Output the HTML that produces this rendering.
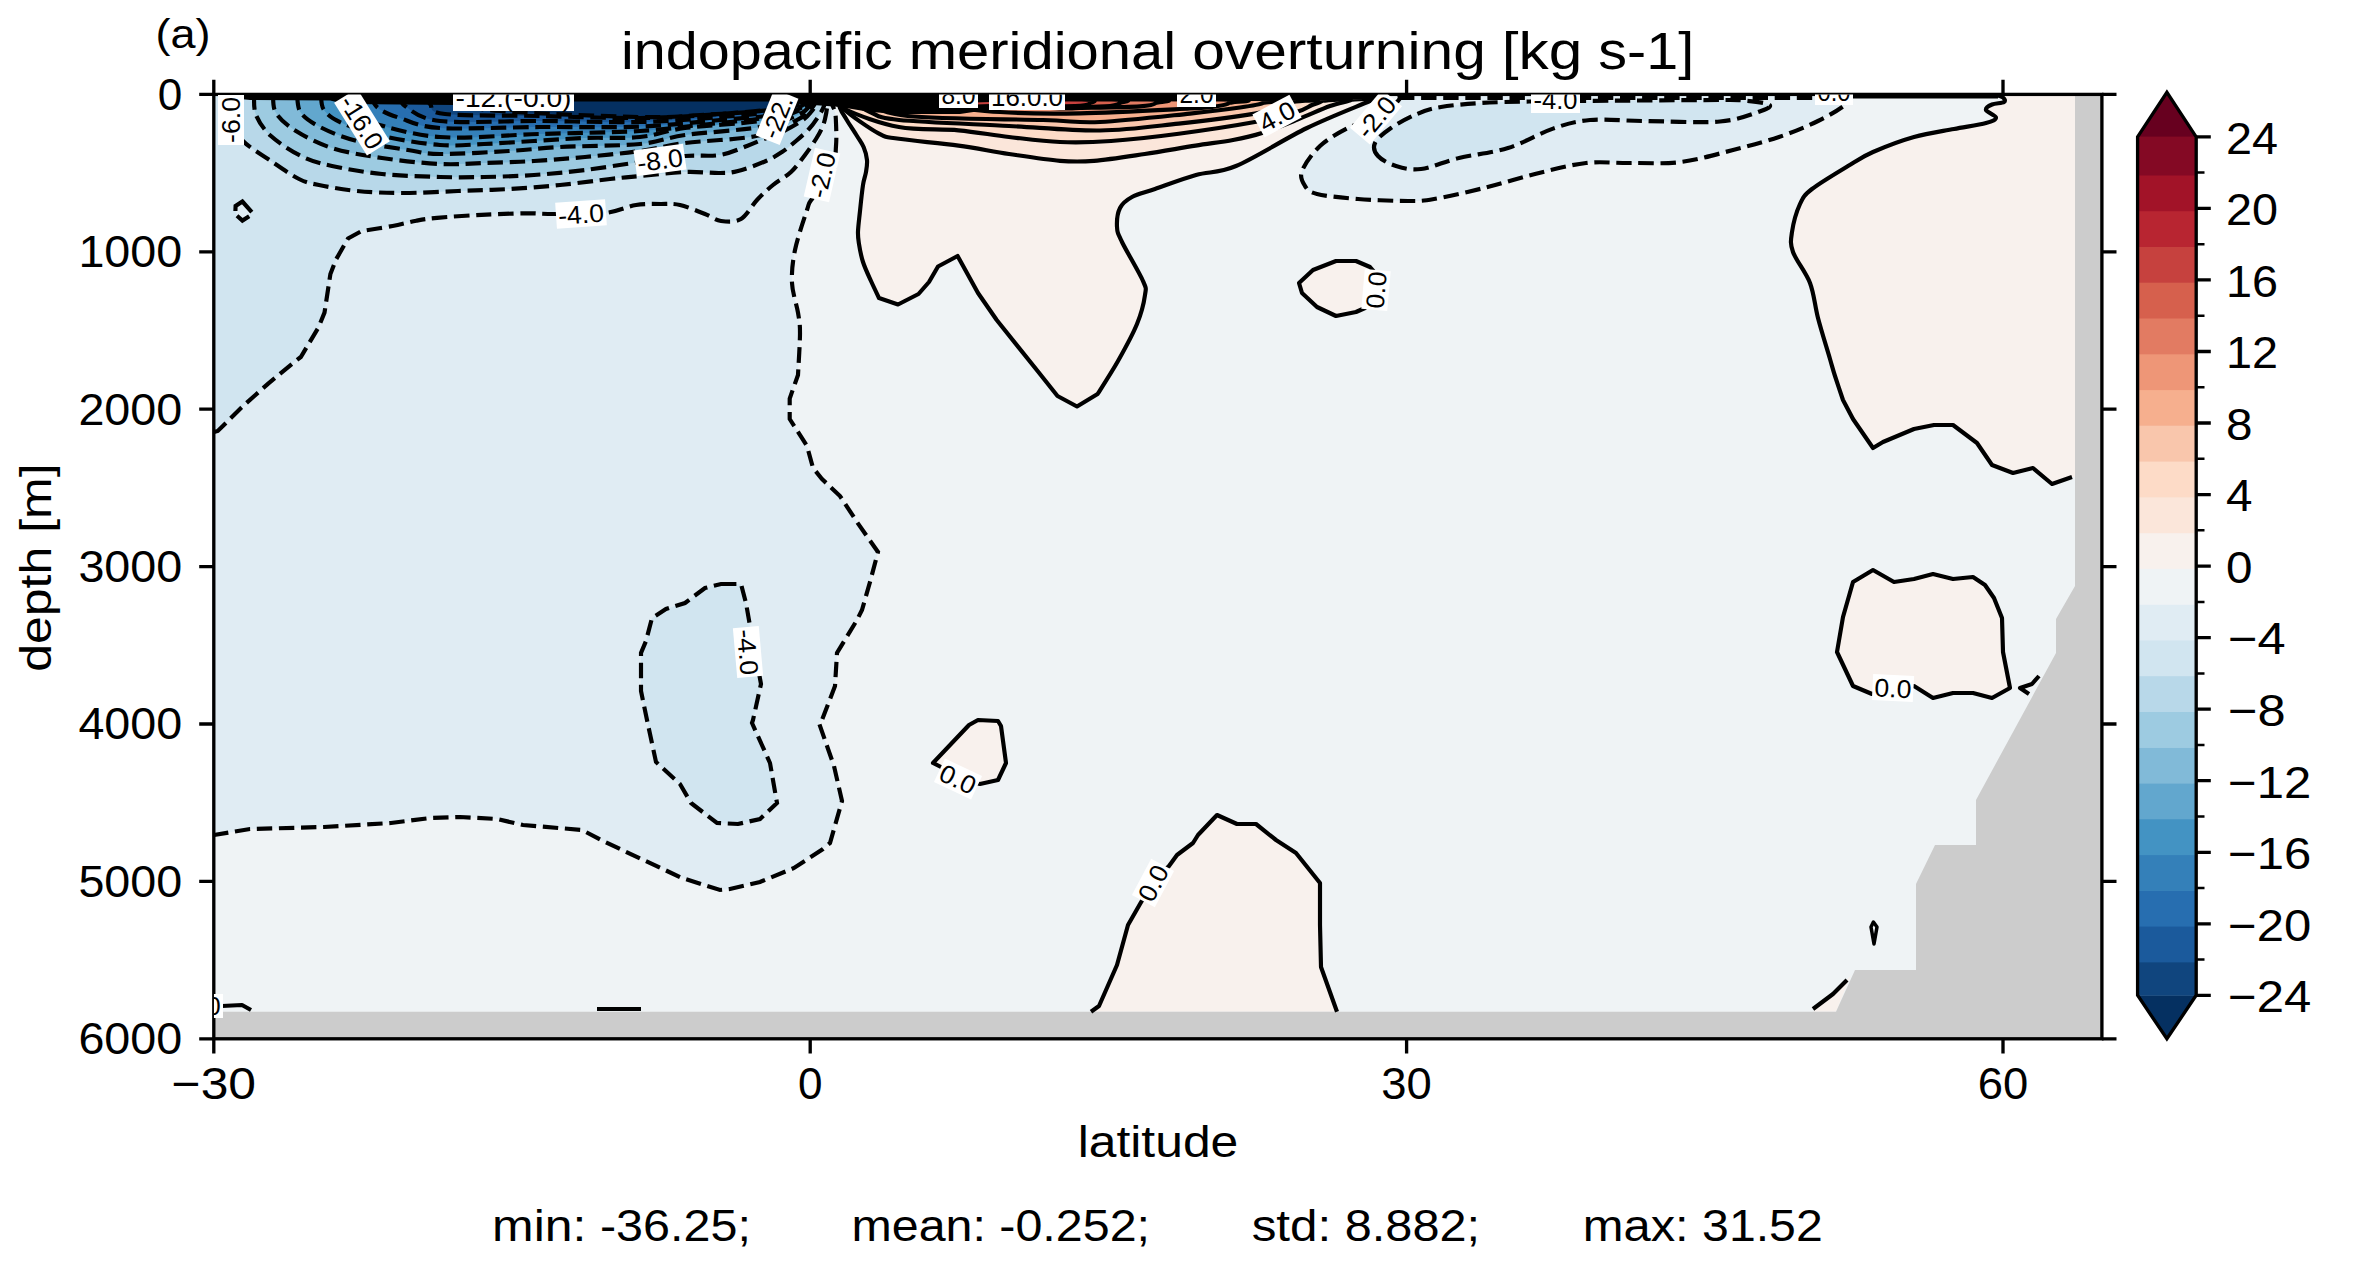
<!DOCTYPE html>
<html><head><meta charset="utf-8"><style>html,body{margin:0;padding:0;background:#fff;overflow:hidden;}svg{display:block;}</style></head><body>
<svg width="2362" height="1263" viewBox="0 0 2362 1263">
<defs><clipPath id="ax"><rect x="213.8" y="94.4" width="1888.1" height="944.4"/></clipPath></defs>
<rect width="2362" height="1263" fill="#fff"/>
<g clip-path="url(#ax)">
<rect x="213.8" y="94.4" width="1888.1" height="944.4" fill="#eff3f5"/>
<path d="M831 94.4 C831.2 96 831.3 101.1 832 104 C832.7 106.9 834.3 108.8 835 112 C835.7 115.2 835.8 117.3 836 123 C836.2 128.7 836.7 137.3 836 146 C835.3 154.7 836 166.2 832 175 C828 183.8 816.2 193.2 812 199 C807.8 204.8 809.8 201.5 807 210 C804.2 218.5 797.5 237.8 795 250 C792.5 262.2 791.5 272.6 792 283 C792.5 293.4 796.7 304.3 798 312.6 C799.3 320.9 800 322.6 800 333 C800 343.4 798.3 368 798 375 L798 375 L789.7 398.5 L789.7 419 L807 446 L813 468 L822 479 L840 496 L857 522 L878 552 L870 582 L862 610 L857 620 L837 653 L835 686 L822 720 L819 723 L834 766 L842 801 L830 843 L823 849 L794 868 L760 882 L730 889 L720 890 L682 878 L603 841 L582 830 L523 825 L497 819 L460 817 L430 818 L391 823 L324 827 L250 829 L214 835 L213.8 835 L213.8 94.4 Z" fill="#e0ecf3"/>
<path d="M214 432 L217.8 431 L241.5 407.4 L268.2 383.6 L294.9 361.5 L300.8 357 L318.5 327.4 L324.5 312.6 L330.4 274 L336.2 259.2 L348 238.5 L361.5 231.1 L361.5 231.1 C366.7 230.2 383.5 227.7 392.6 226 C401.7 224.3 408.9 222.1 416.3 220.7 C423.7 219.3 426.2 218.8 437.1 217.8 C448 216.8 466.7 215.6 481.5 214.8 C496.3 214.1 513.8 213.4 526 213.3 C538.2 213.2 541.8 214.1 555 214 C568.2 213.9 591.5 214.5 605 213 C618.5 211.5 626.7 206.5 636 205 C645.3 203.5 653.7 204 661 204 C668.3 204 672.7 203.3 680 205 C687.3 206.7 698.2 211.3 705 214 C711.8 216.7 715 220.2 721 221 C727 221.8 735 222.5 741 219 C747 215.5 751.7 205.7 757 200 C762.3 194.3 767.3 189.7 773 185 C778.7 180.3 785.7 177 791 172 C796.3 167 800.8 160.5 805 155 C809.2 149.5 813.2 143.5 816 139 C818.8 134.5 820.5 131.3 822 128 C823.5 124.7 824.2 122.3 825 119 C825.8 115.7 826.5 112.1 827 108 C827.5 103.9 827.8 96.7 828 94.4 L213.8 94.4 L213.8 432 Z" fill="#d1e5f0"/>
<path d="M721 584 L741 584 L746 603 L750 626 L755 652 L761 684 L753 720 L752 723 L770 763 L777 803 L760 819 L738 824 L717 823 L691 803 L680 784 L656 762 L647 720 L641 691 L641 653 L646 641 L652 618 L666 609 L685 603 L705 588 Z" fill="#d1e5f0"/>
<path d="M1399 94.4 C1398.8 95.5 1401.8 97.2 1398 101 C1394.2 104.8 1384.3 112.5 1376 117 C1367.7 121.5 1357.3 123.2 1348 128 C1338.7 132.8 1327.7 138.8 1320 146 C1312.3 153.2 1304.5 164.3 1302 171 C1299.5 177.7 1302.5 182.2 1305 186 C1307.5 189.8 1308.2 191.8 1317 194 C1325.8 196.2 1342.8 197.8 1358 199 C1373.2 200.2 1395.3 201 1408 201 C1420.7 201 1421.3 201.2 1434 199 C1446.7 196.8 1467.2 192.2 1484 188 C1500.8 183.8 1518 178.2 1535 174 C1552 169.8 1570.2 164.8 1586 163 C1601.8 161.2 1614.2 163.2 1630 163 C1645.8 162.8 1663.8 164.2 1681 162 C1698.2 159.8 1716.7 154.2 1733 150 C1749.3 145.8 1764.8 141.8 1779 137 C1793.2 132.2 1807 126.3 1818 121 C1829 115.7 1839.5 109.4 1845 105 C1850.5 100.6 1850 96.2 1851 94.4 Z" fill="#e0ecf3"/>
<path d="M1378 156 C1374.5 152.2 1372.8 147.7 1375 143 C1377.2 138.3 1384 132.8 1391 128 C1398 123.2 1408.7 117.5 1417 114 C1425.3 110.5 1430.3 108.8 1441 107 C1451.7 105.2 1466.3 103.9 1481 103 C1495.7 102.1 1512.5 101.8 1529 101.5 C1545.5 101.2 1561.5 101.2 1580 101 C1598.5 100.8 1616.7 100.7 1640 100.5 C1663.3 100.3 1702.7 100 1720 100 C1737.3 100 1735.8 99.8 1744 100.5 C1752.2 101.2 1766.2 102.8 1769 104.5 C1771.8 106.2 1769.2 108.2 1761 111 C1752.8 113.8 1739.5 119.8 1720 121.5 C1700.5 123.2 1665.7 121.2 1644 121 C1622.3 120.8 1605.2 118.7 1590 120 C1574.8 121.3 1566.7 123.9 1553 128.6 C1539.3 133.3 1523.7 143.1 1508 148 C1492.3 152.9 1473.5 154.5 1459 158 C1444.5 161.5 1431.5 167.7 1421 169 C1410.5 170.3 1403.2 168.2 1396 166 C1388.8 163.8 1381.5 159.8 1378 156Z" fill="#d1e5f0"/>
<path d="M228 94.4 C229 99 231.5 114.2 234 122 C236.5 129.8 236.8 134.5 243 141 C249.2 147.5 261.7 154.7 271 161 C280.3 167.3 291 175 299 179 C307 183 309.3 183 319 185 C328.7 187 343 189.7 357 191 C371 192.3 386.2 193 403 193 C419.8 193 440.3 191.7 458 191 C475.7 190.3 492 190 509 189 C526 188 543.2 186.7 560 185 C576.8 183.3 596.7 180.5 610 179 C623.3 177.5 627.5 177.2 640 176 C652.5 174.8 671.7 172.5 685 172 C698.3 171.5 711.2 173.2 720 173 C728.8 172.8 730.3 173 738 171 C745.7 169 758.7 164.2 766 161 C773.3 157.8 777 155.3 782 152 C787 148.7 791.5 144.8 796 141 C800.5 137.2 805.3 133 809 129 C812.7 125 815.5 120.8 818 117 C820.5 113.2 822.7 109.8 824 106 C825.3 102.2 825.7 96.3 826 94.4 Z" fill="#b8d8e9"/>
<path d="M254 94.4 C254.3 97.8 253.2 108.1 256 115 C258.8 121.9 263.5 129.2 271 136 C278.5 142.8 290.8 151 301 156 C311.2 161 318.5 163 332 166 C345.5 169 364 172.2 382 174 C400 175.8 423 176.5 440 177 C457 177.5 468.3 177.3 484 177 C499.7 176.7 517.2 176.2 534 175 C550.8 173.8 567.3 172.2 585 170 C602.7 167.8 623.3 164.3 640 162 C656.7 159.7 671.7 157.2 685 156 C698.3 154.8 709.7 156.7 720 155 C730.3 153.3 739.7 148.7 747 146 C754.3 143.3 758.2 141.3 764 139 C769.8 136.7 775.5 135.2 782 132 C788.5 128.8 798.2 123.3 803 120 C807.8 116.7 808.2 115.3 811 112 C813.8 108.7 818.2 102.9 820 100 C821.8 97.1 821.7 95.3 822 94.4 Z" fill="#9dcbe1"/>
<path d="M273 94.4 C273.5 97.5 272.2 106.9 276 113 C279.8 119.1 286.7 125.2 296 131 C305.3 136.8 317.7 143.5 332 148 C346.3 152.5 364 155.3 382 158 C400 160.7 423 163.2 440 164 C457 164.8 468.3 163.5 484 163 C499.7 162.5 517.2 162 534 161 C550.8 160 567.3 158.7 585 157 C602.7 155.3 623.3 153.3 640 151 C656.7 148.7 665.7 145.5 685 143 C704.3 140.5 737.3 139.8 756 136 C774.7 132.2 787.7 124.7 797 120 C806.3 115.3 808.3 112.3 812 108 C815.7 103.7 817.8 96.7 819 94.4 Z" fill="#81bad8"/>
<path d="M297 94.4 C297.7 97.5 296.8 107.4 301 113 C305.2 118.6 312.7 123.3 322 128 C331.3 132.7 342.7 137.3 357 141 C371.3 144.7 394.2 147.8 408 150 C421.8 152.2 423.2 153.8 440 154 C456.8 154.2 489 152.2 509 151 C529 149.8 538.2 148.2 560 147 C581.8 145.8 619.2 146 640 144 C660.8 142 665 137.8 685 135 C705 132.2 740.8 130.5 760 127 C779.2 123.5 791.3 118.2 800 114 C808.7 109.8 809.2 105.3 812 102 C814.8 98.7 816.2 95.7 817 94.4 Z" fill="#62a7ce"/>
<path d="M321 94.4 C321.5 97 320.5 105.2 324 110 C327.5 114.8 332.3 118.7 342 123 C351.7 127.3 365.7 132.3 382 136 C398.3 139.7 423 143.7 440 145 C457 146.3 468.3 144.7 484 144 C499.7 143.3 517.2 142 534 141 C550.8 140 567.3 138.7 585 138 C602.7 137.3 623.3 138.7 640 137 C656.7 135.3 665 130.7 685 128 C705 125.3 740.8 124 760 121 C779.2 118 790.8 114.4 800 110 C809.2 105.6 812.5 97 815 94.4 Z" fill="#4393c3"/>
<path d="M340 94.4 C340.8 96.7 340 103.4 345 108 C350 112.6 354.2 117.2 370 122 C385.8 126.8 411.7 135 440 137 C468.3 139 506.7 135 540 134 C573.3 133 613.3 132.5 640 131 C666.7 129.5 678.3 127.3 700 125 C721.7 122.7 752.5 120.2 770 117 C787.5 113.8 798 109.8 805 106 C812 102.2 810.8 96.3 812 94.4 Z" fill="#3480b9"/>
<path d="M370 94.4 C371.3 96.7 373 104.1 378 108 C383 111.9 389.7 114.7 400 118 C410.3 121.3 416.7 126.5 440 128 C463.3 129.5 506.7 127.2 540 127 C573.3 126.8 610 127.8 640 126.6 C670 125.4 696.7 122.1 720 120 C743.3 117.9 765.7 116.8 780 114 C794.3 111.2 801 106.3 806 103 C811 99.7 809.3 95.8 810 94.4 Z" fill="#276eb0"/>
<path d="M400 94.4 C400.8 96.3 398.3 101.6 405 106 C411.7 110.4 417.5 118.5 440 121 C462.5 123.5 506.7 120.8 540 121 C573.3 121.2 610 122.7 640 122 C670 121.3 696.7 118.8 720 117 C743.3 115.2 766 113.7 780 111 C794 108.3 799.3 103.8 804 101 C808.7 98.2 807.3 95.5 808 94.4 Z" fill="#1b5a9c"/>
<path d="M424 94.4 C425 96 426.5 100.7 430 104 C433.5 107.3 426.7 112 445 114 C463.3 116 507.5 115.3 540 116 C572.5 116.7 610 118.3 640 118 C670 117.7 696.7 115.7 720 114 C743.3 112.3 766.3 110.5 780 108 C793.7 105.5 797.7 101.3 802 99 C806.3 96.7 805.3 95.2 806 94.4 Z" fill="#10457e"/>
<path d="M451 94.4 C452.5 95.8 451.8 100.2 460 103 C468.2 105.8 470 108.7 500 111 C530 113.3 606.7 116.3 640 117 C673.3 117.7 678.7 116.2 700 115 C721.3 113.8 751.7 112.5 768 110 C784.3 107.5 792 102.6 798 100 C804 97.4 803 95.3 804 94.4 Z" fill="#053061"/>
<path d="M837 94.4 C837.5 96.7 838.4 103.7 840 108 C841.6 112.3 844 115.3 846.8 120 C849.6 124.7 854.2 131.4 857 136 C859.8 140.6 862 143.3 863.7 147.3 C865.4 151.3 866.6 155.9 867 160 C867.4 164.1 866.7 167.8 866 172 C865.3 176.2 864 178.5 863 185 C862 191.5 860.8 203.2 860 211 C859.2 218.8 858.2 226 858 231.5 C857.8 237 858.2 238.9 859 244 C859.8 249.1 861 255.8 863 262 C865 268.2 868.3 275 871 281 C873.7 287 877.7 295.2 879 298 L879 298 L898 304.5 L918.5 294 L929 282 L938 266.5 L957.6 256 L978 293 L996.7 320 L1038 371.5 L1057.5 396 L1077 406.5 L1097.6 394 L1097.6 394 C1101 388.5 1111.4 372.7 1118 361 C1124.6 349.3 1132.5 335 1137 324 C1141.5 313 1144 302.2 1145 295 C1146 287.8 1146.8 289.8 1143 281 C1139.2 272.2 1126.3 251 1122 242 C1117.7 233 1117.3 232.7 1117 227 C1116.7 221.3 1117.5 213 1120 208 C1122.5 203 1126.2 200.2 1132 197 C1137.8 193.8 1144.3 192.7 1155 189 C1165.7 185.3 1182.5 178.8 1196 175 C1209.5 171.2 1217.5 173.8 1236 166 C1254.5 158.2 1284.7 138.8 1307 128 C1329.3 117.2 1357 106.6 1370 101 C1383 95.4 1382.5 95.5 1385 94.4 Z" fill="#f8f1ed"/>
<path d="M1299 283 L1313 270 L1336 261 L1356 261 L1370 267 L1377 275 L1378 295 L1365 308 L1356 312 L1336 316 L1317 307 L1302 293 Z" fill="#f8f1ed"/>
<path d="M1995 94.4 C1996.3 94.9 2001.5 96.2 2003 97.5 C2004.5 98.8 2005.8 100.8 2004 102 C2002.2 103.2 1995 103.2 1992 104.5 C1989 105.8 1985.3 107.8 1986 110 C1986.7 112.2 1996 115.3 1996 117.5 C1996 119.7 1993 121.1 1986 123 C1979 124.9 1966 126.7 1954 129 C1942 131.3 1927.5 133.2 1914 137 C1900.5 140.8 1884 147.2 1873 152 C1862 156.8 1858.2 159.8 1848 166 C1837.8 172.2 1820 182.7 1812 189 C1804 195.3 1803.3 196.8 1800 204 C1796.7 211.2 1793.2 224 1792 232 C1790.8 240 1790 243.5 1793 252 C1796 260.5 1805.8 272 1810 283 C1814.2 294 1814.7 305.3 1818 318 C1821.3 330.7 1827.2 349.3 1830 359 C1832.8 368.7 1832.8 369.2 1835 376 C1837.2 382.8 1841.7 396 1843 400 L1843 400 L1853 419 L1873 448 L1883 442 L1914 429 L1934 425 L1953 425 L1977 443 L1992 465 L2013 473 L2033 468 L2052 484 L2072 477 L2075 477 L2075 94.4 Z" fill="#f8f1ed"/>
<path d="M1853 582 L1873 570 L1894 582 L1914 579 L1933 574 L1953 579 L1973 577 L1985 585 L1994 598 L2002 618 L2003 652 L2010 688 L1992 698 L1973 693 L1953 693 L1933 698 L1914 686 L1893 690 L1872 694 L1853 686 L1837 652 L1843 617 Z" fill="#f8f1ed"/>
<path d="M933 763 L969 725 L978 720 L998 721 L1001 726 L1006 763 L998 780 L980 784 L958 779 L941 767 Z" fill="#f8f1ed"/>
<path d="M1091 1011.8 L1099 1006 L1117 965 L1128 925 L1140 904 L1153 882 L1169 866 L1177 855 L1193 843 L1198 835 L1217 815 L1237 824 L1256 824 L1276 840 L1296 853 L1320 883 L1320 925 L1321 967 L1337 1011.8 Z" fill="#f8f1ed"/>
<path d="M1813 1011.8 L1833 994 L1847 980 L1851 975 L1836 1011.8 Z" fill="#f8f1ed"/>
<path d="M2075 94.4 L2101.9 94.4 L2101.9 1038.8 L213.8 1038.8 L213.8 1011.8 L1836 1011.8 L1855 970 L1916 970 L1916 884 L1935 845 L1976 845 L1976 800 L2056 653 L2056 619 L2075 586 Z" fill="#cccccc"/>
<path d="M831 94.4 C831.2 96 831.3 101.1 832 104 C832.7 106.9 834.3 108.8 835 112 C835.7 115.2 835.8 117.3 836 123 C836.2 128.7 836.7 137.3 836 146 C835.3 154.7 836 166.2 832 175 C828 183.8 816.2 193.2 812 199 C807.8 204.8 809.8 201.5 807 210 C804.2 218.5 797.5 237.8 795 250 C792.5 262.2 791.5 272.6 792 283 C792.5 293.4 796.7 304.3 798 312.6 C799.3 320.9 800 322.6 800 333 C800 343.4 798.3 368 798 375 L798 375 L789.7 398.5 L789.7 419 L807 446 L813 468 L822 479 L840 496 L857 522 L878 552 L870 582 L862 610 L857 620 L837 653 L835 686 L822 720 L819 723 L834 766 L842 801 L830 843 L823 849 L794 868 L760 882 L730 889 L720 890 L682 878 L603 841 L582 830 L523 825 L497 819 L460 817 L430 818 L391 823 L324 827 L250 829 L214 835" fill="none" stroke="#000" stroke-width="4.17" stroke-dasharray="15.4 6.7"/>
<path d="M214 432 L217.8 431 L241.5 407.4 L268.2 383.6 L294.9 361.5 L300.8 357 L318.5 327.4 L324.5 312.6 L330.4 274 L336.2 259.2 L348 238.5 L361.5 231.1 L361.5 231.1 C366.7 230.2 383.5 227.7 392.6 226 C401.7 224.3 408.9 222.1 416.3 220.7 C423.7 219.3 426.2 218.8 437.1 217.8 C448 216.8 466.7 215.6 481.5 214.8 C496.3 214.1 513.8 213.4 526 213.3 C538.2 213.2 541.8 214.1 555 214 C568.2 213.9 591.5 214.5 605 213 C618.5 211.5 626.7 206.5 636 205 C645.3 203.5 653.7 204 661 204 C668.3 204 672.7 203.3 680 205 C687.3 206.7 698.2 211.3 705 214 C711.8 216.7 715 220.2 721 221 C727 221.8 735 222.5 741 219 C747 215.5 751.7 205.7 757 200 C762.3 194.3 767.3 189.7 773 185 C778.7 180.3 785.7 177 791 172 C796.3 167 800.8 160.5 805 155 C809.2 149.5 813.2 143.5 816 139 C818.8 134.5 820.5 131.3 822 128 C823.5 124.7 824.2 122.3 825 119 C825.8 115.7 826.5 112.1 827 108 C827.5 103.9 827.8 96.7 828 94.4" fill="none" stroke="#000" stroke-width="4.17" stroke-dasharray="15.4 6.7"/>
<path d="M721 584 L741 584 L746 603 L750 626 L755 652 L761 684 L753 720 L752 723 L770 763 L777 803 L760 819 L738 824 L717 823 L691 803 L680 784 L656 762 L647 720 L641 691 L641 653 L646 641 L652 618 L666 609 L685 603 L705 588 Z" fill="none" stroke="#000" stroke-width="4.17" stroke-dasharray="15.4 6.7"/>
<path d="M1399 94.4 C1398.8 95.5 1401.8 97.2 1398 101 C1394.2 104.8 1384.3 112.5 1376 117 C1367.7 121.5 1357.3 123.2 1348 128 C1338.7 132.8 1327.7 138.8 1320 146 C1312.3 153.2 1304.5 164.3 1302 171 C1299.5 177.7 1302.5 182.2 1305 186 C1307.5 189.8 1308.2 191.8 1317 194 C1325.8 196.2 1342.8 197.8 1358 199 C1373.2 200.2 1395.3 201 1408 201 C1420.7 201 1421.3 201.2 1434 199 C1446.7 196.8 1467.2 192.2 1484 188 C1500.8 183.8 1518 178.2 1535 174 C1552 169.8 1570.2 164.8 1586 163 C1601.8 161.2 1614.2 163.2 1630 163 C1645.8 162.8 1663.8 164.2 1681 162 C1698.2 159.8 1716.7 154.2 1733 150 C1749.3 145.8 1764.8 141.8 1779 137 C1793.2 132.2 1807 126.3 1818 121 C1829 115.7 1839.5 109.4 1845 105 C1850.5 100.6 1850 96.2 1851 94.4" fill="none" stroke="#000" stroke-width="4.17" stroke-dasharray="15.4 6.7"/>
<path d="M1399 98 L1851 98" fill="none" stroke="#000" stroke-width="4.17" stroke-dasharray="15.4 6.7"/>
<path d="M1378 156 C1374.5 152.2 1372.8 147.7 1375 143 C1377.2 138.3 1384 132.8 1391 128 C1398 123.2 1408.7 117.5 1417 114 C1425.3 110.5 1430.3 108.8 1441 107 C1451.7 105.2 1466.3 103.9 1481 103 C1495.7 102.1 1512.5 101.8 1529 101.5 C1545.5 101.2 1561.5 101.2 1580 101 C1598.5 100.8 1616.7 100.7 1640 100.5 C1663.3 100.3 1702.7 100 1720 100 C1737.3 100 1735.8 99.8 1744 100.5 C1752.2 101.2 1766.2 102.8 1769 104.5 C1771.8 106.2 1769.2 108.2 1761 111 C1752.8 113.8 1739.5 119.8 1720 121.5 C1700.5 123.2 1665.7 121.2 1644 121 C1622.3 120.8 1605.2 118.7 1590 120 C1574.8 121.3 1566.7 123.9 1553 128.6 C1539.3 133.3 1523.7 143.1 1508 148 C1492.3 152.9 1473.5 154.5 1459 158 C1444.5 161.5 1431.5 167.7 1421 169 C1410.5 170.3 1403.2 168.2 1396 166 C1388.8 163.8 1381.5 159.8 1378 156Z" fill="none" stroke="#000" stroke-width="4.17" stroke-dasharray="15.4 6.7"/>
<path d="M235.5 209 L236 206 L242.4 201.5 L251.5 211.5 L249 216.5 L242.4 220.5 L237 215.5 Z" fill="#e0ecf3"/>
<path d="M235.4 211 L235.6 206 L242.4 201.5 L251.8 212.2" fill="none" stroke="#000" stroke-width="4.17"/>
<path d="M237 215.8 L242.4 220.6 L249.2 216.2" fill="none" stroke="#000" stroke-width="4.17"/>
<path d="M228 94.4 C229 99 231.5 114.2 234 122 C236.5 129.8 236.8 134.5 243 141 C249.2 147.5 261.7 154.7 271 161 C280.3 167.3 291 175 299 179 C307 183 309.3 183 319 185 C328.7 187 343 189.7 357 191 C371 192.3 386.2 193 403 193 C419.8 193 440.3 191.7 458 191 C475.7 190.3 492 190 509 189 C526 188 543.2 186.7 560 185 C576.8 183.3 596.7 180.5 610 179 C623.3 177.5 627.5 177.2 640 176 C652.5 174.8 671.7 172.5 685 172 C698.3 171.5 711.2 173.2 720 173 C728.8 172.8 730.3 173 738 171 C745.7 169 758.7 164.2 766 161 C773.3 157.8 777 155.3 782 152 C787 148.7 791.5 144.8 796 141 C800.5 137.2 805.3 133 809 129 C812.7 125 815.5 120.8 818 117 C820.5 113.2 822.7 109.8 824 106 C825.3 102.2 825.7 96.3 826 94.4" fill="none" stroke="#000" stroke-width="4.17" stroke-dasharray="15.4 6.7"/>
<path d="M254 94.4 C254.3 97.8 253.2 108.1 256 115 C258.8 121.9 263.5 129.2 271 136 C278.5 142.8 290.8 151 301 156 C311.2 161 318.5 163 332 166 C345.5 169 364 172.2 382 174 C400 175.8 423 176.5 440 177 C457 177.5 468.3 177.3 484 177 C499.7 176.7 517.2 176.2 534 175 C550.8 173.8 567.3 172.2 585 170 C602.7 167.8 623.3 164.3 640 162 C656.7 159.7 671.7 157.2 685 156 C698.3 154.8 709.7 156.7 720 155 C730.3 153.3 739.7 148.7 747 146 C754.3 143.3 758.2 141.3 764 139 C769.8 136.7 775.5 135.2 782 132 C788.5 128.8 798.2 123.3 803 120 C807.8 116.7 808.2 115.3 811 112 C813.8 108.7 818.2 102.9 820 100 C821.8 97.1 821.7 95.3 822 94.4" fill="none" stroke="#000" stroke-width="4.17" stroke-dasharray="15.4 6.7"/>
<path d="M273 94.4 C273.5 97.5 272.2 106.9 276 113 C279.8 119.1 286.7 125.2 296 131 C305.3 136.8 317.7 143.5 332 148 C346.3 152.5 364 155.3 382 158 C400 160.7 423 163.2 440 164 C457 164.8 468.3 163.5 484 163 C499.7 162.5 517.2 162 534 161 C550.8 160 567.3 158.7 585 157 C602.7 155.3 623.3 153.3 640 151 C656.7 148.7 665.7 145.5 685 143 C704.3 140.5 737.3 139.8 756 136 C774.7 132.2 787.7 124.7 797 120 C806.3 115.3 808.3 112.3 812 108 C815.7 103.7 817.8 96.7 819 94.4" fill="none" stroke="#000" stroke-width="4.17" stroke-dasharray="15.4 6.7"/>
<path d="M297 94.4 C297.7 97.5 296.8 107.4 301 113 C305.2 118.6 312.7 123.3 322 128 C331.3 132.7 342.7 137.3 357 141 C371.3 144.7 394.2 147.8 408 150 C421.8 152.2 423.2 153.8 440 154 C456.8 154.2 489 152.2 509 151 C529 149.8 538.2 148.2 560 147 C581.8 145.8 619.2 146 640 144 C660.8 142 665 137.8 685 135 C705 132.2 740.8 130.5 760 127 C779.2 123.5 791.3 118.2 800 114 C808.7 109.8 809.2 105.3 812 102 C814.8 98.7 816.2 95.7 817 94.4" fill="none" stroke="#000" stroke-width="4.17" stroke-dasharray="15.4 6.7"/>
<path d="M321 94.4 C321.5 97 320.5 105.2 324 110 C327.5 114.8 332.3 118.7 342 123 C351.7 127.3 365.7 132.3 382 136 C398.3 139.7 423 143.7 440 145 C457 146.3 468.3 144.7 484 144 C499.7 143.3 517.2 142 534 141 C550.8 140 567.3 138.7 585 138 C602.7 137.3 623.3 138.7 640 137 C656.7 135.3 665 130.7 685 128 C705 125.3 740.8 124 760 121 C779.2 118 790.8 114.4 800 110 C809.2 105.6 812.5 97 815 94.4" fill="none" stroke="#000" stroke-width="4.17" stroke-dasharray="15.4 6.7"/>
<path d="M340 94.4 C340.8 96.7 340 103.4 345 108 C350 112.6 354.2 117.2 370 122 C385.8 126.8 411.7 135 440 137 C468.3 139 506.7 135 540 134 C573.3 133 613.3 132.5 640 131 C666.7 129.5 678.3 127.3 700 125 C721.7 122.7 752.5 120.2 770 117 C787.5 113.8 798 109.8 805 106 C812 102.2 810.8 96.3 812 94.4" fill="none" stroke="#000" stroke-width="4.17" stroke-dasharray="15.4 6.7"/>
<path d="M370 94.4 C371.3 96.7 373 104.1 378 108 C383 111.9 389.7 114.7 400 118 C410.3 121.3 416.7 126.5 440 128 C463.3 129.5 506.7 127.2 540 127 C573.3 126.8 610 127.8 640 126.6 C670 125.4 696.7 122.1 720 120 C743.3 117.9 765.7 116.8 780 114 C794.3 111.2 801 106.3 806 103 C811 99.7 809.3 95.8 810 94.4" fill="none" stroke="#000" stroke-width="4.17" stroke-dasharray="15.4 6.7"/>
<path d="M400 94.4 C400.8 96.3 398.3 101.6 405 106 C411.7 110.4 417.5 118.5 440 121 C462.5 123.5 506.7 120.8 540 121 C573.3 121.2 610 122.7 640 122 C670 121.3 696.7 118.8 720 117 C743.3 115.2 766 113.7 780 111 C794 108.3 799.3 103.8 804 101 C808.7 98.2 807.3 95.5 808 94.4" fill="none" stroke="#000" stroke-width="4.17" stroke-dasharray="15.4 6.7"/>
<path d="M424 94.4 C425 96 426.5 100.7 430 104 C433.5 107.3 426.7 112 445 114 C463.3 116 507.5 115.3 540 116 C572.5 116.7 610 118.3 640 118 C670 117.7 696.7 115.7 720 114 C743.3 112.3 766.3 110.5 780 108 C793.7 105.5 797.7 101.3 802 99 C806.3 96.7 805.3 95.2 806 94.4" fill="none" stroke="#000" stroke-width="4.17" stroke-dasharray="15.4 6.7"/>
<path d="M451 94.4 C452.5 95.8 451.8 100.2 460 103 C468.2 105.8 470 108.7 500 111 C530 113.3 606.7 116.3 640 117 C673.3 117.7 678.7 116.2 700 115 C721.3 113.8 751.7 112.5 768 110 C784.3 107.5 792 102.6 798 100 C804 97.4 803 95.3 804 94.4" fill="none" stroke="#000" stroke-width="4.17" stroke-dasharray="15.4 6.7"/>
<path d="M837 94.4 C837.5 96.7 838.4 103.7 840 108 C841.6 112.3 844 115.3 846.8 120 C849.6 124.7 854.2 131.4 857 136 C859.8 140.6 862 143.3 863.7 147.3 C865.4 151.3 866.6 155.9 867 160 C867.4 164.1 866.7 167.8 866 172 C865.3 176.2 864 178.5 863 185 C862 191.5 860.8 203.2 860 211 C859.2 218.8 858.2 226 858 231.5 C857.8 237 858.2 238.9 859 244 C859.8 249.1 861 255.8 863 262 C865 268.2 868.3 275 871 281 C873.7 287 877.7 295.2 879 298 L879 298 L898 304.5 L918.5 294 L929 282 L938 266.5 L957.6 256 L978 293 L996.7 320 L1038 371.5 L1057.5 396 L1077 406.5 L1097.6 394 L1097.6 394 C1101 388.5 1111.4 372.7 1118 361 C1124.6 349.3 1132.5 335 1137 324 C1141.5 313 1144 302.2 1145 295 C1146 287.8 1146.8 289.8 1143 281 C1139.2 272.2 1126.3 251 1122 242 C1117.7 233 1117.3 232.7 1117 227 C1116.7 221.3 1117.5 213 1120 208 C1122.5 203 1126.2 200.2 1132 197 C1137.8 193.8 1144.3 192.7 1155 189 C1165.7 185.3 1182.5 178.8 1196 175 C1209.5 171.2 1217.5 173.8 1236 166 C1254.5 158.2 1284.7 138.8 1307 128 C1329.3 117.2 1357 106.6 1370 101 C1383 95.4 1382.5 95.5 1385 94.4" fill="none" stroke="#000" stroke-width="4.17" stroke-linejoin="round"/>
<path d="M843 100 C843.3 101.7 839 104.4 845 110 C851 115.6 870 128.9 879 133.7 C888 138.5 885.8 136.8 899 138.8 C912.2 140.8 940.2 143.1 958.5 145.6 C976.8 148.1 992.1 151.5 1009 154 C1025.9 156.5 1045.8 159.7 1060 160.8 C1074.2 161.9 1079.9 161.9 1094 160.8 C1108.1 159.7 1127.9 156.5 1144.8 154 C1161.7 151.5 1180.9 147.9 1195.6 145.6 C1210.3 143.3 1221.9 142.1 1233 140 C1244.1 137.9 1251.2 136.4 1262 133 C1272.8 129.6 1286.7 123.9 1298 119.4 C1309.3 114.9 1321.2 109.2 1330 106 C1338.8 102.8 1348.8 101.4 1351 100 C1353.2 98.6 1426 97.9 1343 97.5 C1260 97.1 934.7 97.5 853 97.5Z" fill="#fbe6da" stroke="#000" stroke-width="4.17" stroke-linejoin="round"/>
<path d="M845 100 C845.3 101.7 838 105.5 847 110 C856 114.5 880.4 123.6 899 127 C917.6 130.4 940.2 128.6 958.5 130.3 C976.8 132 992.1 135.1 1009 137 C1025.9 138.9 1043 141.3 1060 142 C1077 142.7 1091.2 142.4 1111 141 C1130.8 139.6 1154.7 136.9 1178.7 133.7 C1202.7 130.5 1235.2 125.6 1254.8 122 C1274.4 118.4 1287 114.8 1296.5 112 C1306 109.2 1307.8 106.8 1312 105 C1316.2 103.2 1321.7 102.2 1322 101 C1322.3 99.8 1391.8 98.5 1314 98 C1236.2 97.5 931.5 98 855 98Z" fill="#fddbc7" stroke="#000" stroke-width="4.17" stroke-linejoin="round"/>
<path d="M850 100 C853.3 102 861.8 108.7 870 112 C878.2 115.3 875.8 117.7 899 120 C922.2 122.3 975.5 124.2 1009 126 C1042.5 127.8 1071.7 130.9 1100 130.5 C1128.3 130.1 1152.9 126.4 1178.7 123.6 C1204.5 120.8 1237.4 116.5 1254.8 113.6 C1272.2 110.7 1276.8 107.9 1283 106 C1289.2 104.1 1291.8 103.2 1292 102 C1292.2 100.8 1356 99.1 1284 98.5 C1212 97.9 930.7 98.5 860 98.5Z" fill="#f9c6ac" stroke="#000" stroke-width="4.17" stroke-linejoin="round"/>
<path d="M860 100 C868 102.7 877.2 112.7 907.7 116 C938.2 119.3 1011 119 1043 120 C1075 121 1075.5 123.1 1100 122 C1124.5 120.9 1166.7 116 1190 113.6 C1213.3 111.2 1227.8 109.3 1240 107.5 C1252.2 105.7 1260.5 104.4 1263 103 C1265.5 101.6 1320.5 99.7 1255 99 C1189.5 98.3 934.2 99 870 99Z" fill="#f6af8e" stroke="#000" stroke-width="4.17" stroke-linejoin="round"/>
<path d="M880 100 C900 102 966.7 109.8 1000 112 C1033.3 114.2 1048.3 113.9 1080 113.3 C1111.7 112.7 1167.5 109.6 1190 108.5 C1212.5 107.4 1208.5 107.4 1215 106.5 C1221.5 105.6 1228 104.2 1229 103 C1230 101.8 1277.5 100.1 1221 99.5 C1164.5 98.9 945.2 99.5 890 99.5Z" fill="#ee9677" stroke="#000" stroke-width="4.17" stroke-linejoin="round"/>
<path d="M900 100 C925 101.3 1020 106.7 1050 108 C1080 109.3 1065 108.1 1080 107.8 C1095 107.5 1127.3 107.1 1140 106.3 C1152.7 105.5 1154.7 104.1 1156 103 C1157.3 101.9 1189 100.1 1148 99.5 C1107 98.9 949.7 99.5 910 99.5Z" fill="#e27b62" stroke="#000" stroke-width="4.17" stroke-linejoin="round"/>
<path d="M930 100 C950 101 1020.8 105.2 1050 106.3 C1079.2 107.3 1093.3 106.8 1105 106.3 C1116.7 105.8 1118.8 104.1 1120 103 C1121.2 101.9 1142 100.1 1112 99.5 C1082 98.9 968.7 99.5 940 99.5Z" fill="#d6604d" stroke="#000" stroke-width="4.17" stroke-linejoin="round"/>
<path d="M950 100 C958.3 101 979.2 105 1000 106 C1020.8 107 1060 106.5 1075 106 C1090 105.5 1088.8 104.1 1090 103 C1091.2 101.9 1103.7 100.1 1082 99.5 C1060.3 98.9 980.3 99.5 960 99.5Z" fill="#c6413e" stroke="#000" stroke-width="4.17" stroke-linejoin="round"/>
<path d="M1299 283 L1313 270 L1336 261 L1356 261 L1370 267 L1377 275 L1378 295 L1365 308 L1356 312 L1336 316 L1317 307 L1302 293 Z" fill="none" stroke="#000" stroke-width="4.17" stroke-linejoin="round"/>
<path d="M1995 94.4 C1996.3 94.9 2001.5 96.2 2003 97.5 C2004.5 98.8 2005.8 100.8 2004 102 C2002.2 103.2 1995 103.2 1992 104.5 C1989 105.8 1985.3 107.8 1986 110 C1986.7 112.2 1996 115.3 1996 117.5 C1996 119.7 1993 121.1 1986 123 C1979 124.9 1966 126.7 1954 129 C1942 131.3 1927.5 133.2 1914 137 C1900.5 140.8 1884 147.2 1873 152 C1862 156.8 1858.2 159.8 1848 166 C1837.8 172.2 1820 182.7 1812 189 C1804 195.3 1803.3 196.8 1800 204 C1796.7 211.2 1793.2 224 1792 232 C1790.8 240 1790 243.5 1793 252 C1796 260.5 1805.8 272 1810 283 C1814.2 294 1814.7 305.3 1818 318 C1821.3 330.7 1827.2 349.3 1830 359 C1832.8 368.7 1832.8 369.2 1835 376 C1837.2 382.8 1841.7 396 1843 400 L1843 400 L1853 419 L1873 448 L1883 442 L1914 429 L1934 425 L1953 425 L1977 443 L1992 465 L2013 473 L2033 468 L2052 484 L2072 477" fill="none" stroke="#000" stroke-width="4.17" stroke-linejoin="round"/>
<path d="M1853 96.3 L1998 96.3" fill="none" stroke="#000" stroke-width="4.17" stroke-linejoin="round"/>
<path d="M1853 582 L1873 570 L1894 582 L1914 579 L1933 574 L1953 579 L1973 577 L1985 585 L1994 598 L2002 618 L2003 652 L2010 688 L1992 698 L1973 693 L1953 693 L1933 698 L1914 686 L1893 690 L1872 694 L1853 686 L1837 652 L1843 617 Z" fill="none" stroke="#000" stroke-width="4.17" stroke-linejoin="round"/>
<path d="M933 763 L969 725 L978 720 L998 721 L1001 726 L1006 763 L998 780 L980 784 L958 779 L941 767 Z" fill="none" stroke="#000" stroke-width="4.17" stroke-linejoin="round"/>
<path d="M1091 1011.8 L1099 1006 L1117 965 L1128 925 L1140 904 L1153 882 L1169 866 L1177 855 L1193 843 L1198 835 L1217 815 L1237 824 L1256 824 L1276 840 L1296 853 L1320 883 L1320 925 L1321 967 L1337 1011.8" fill="none" stroke="#000" stroke-width="4.17" stroke-linejoin="round"/>
<path d="M1813 1009 L1833 994 L1847 980" fill="none" stroke="#000" stroke-width="4.17" stroke-linejoin="round"/>
<path d="M222 1006 L242 1005 L251 1010" fill="none" stroke="#000" stroke-width="4.17" stroke-linejoin="round"/>
<path d="M597 1009 L641 1009" fill="none" stroke="#000" stroke-width="4.17" stroke-linejoin="round"/>
<path d="M2039 676 L2032 684 L2020 688 L2029 694" fill="none" stroke="#000" stroke-width="4.17" stroke-linejoin="round"/>
<path d="M1873.4 922 L1877 927 L1874 944 L1871 927 Z" fill="none" stroke="#000" stroke-width="3.5" stroke-linejoin="round"/>
<path d="M222 92 L1392 92 L1392 95.5 L1100 95.5 L1085 100 L1060 101.5 L1030 103 L1000 108 L960 114 L900 114 L870 112 L840 107 L800 104 L770 101.5 L575 101.5 L455 105 L345 104 L330 100.5 L250 100 L222 97 Z" fill="#000"/>
<path d="M975 103.5 L990 103" stroke="#c6413e" stroke-width="2.2"/>
</g>
<g font-family="Liberation Sans, sans-serif" fill="#000">
<rect x="213.8" y="94.4" width="1888.1" height="944.4" fill="none" stroke="#000" stroke-width="3.33"/>
<path d="M199.2 94.4 H213.8 M2101.9 94.4 H2116.5 M199.2 251.8 H213.8 M2101.9 251.8 H2116.5 M199.2 409.2 H213.8 M2101.9 409.2 H2116.5 M199.2 566.6 H213.8 M2101.9 566.6 H2116.5 M199.2 724 H213.8 M2101.9 724 H2116.5 M199.2 881.4 H213.8 M2101.9 881.4 H2116.5 M199.2 1038.8 H213.8 M2101.9 1038.8 H2116.5 M213.8 1038.8 V1053.4 M213.8 79.8 V94.4 M810.2 1038.8 V1053.4 M810.2 79.8 V94.4 M1406.6 1038.8 V1053.4 M1406.6 79.8 V94.4 M2003 1038.8 V1053.4 M2003 79.8 V94.4" stroke="#000" stroke-width="3.33"/>
<g clip-path="url(#ax)">
<g transform="translate(231 120) rotate(-90)"><rect x="-25" y="-13" width="50" height="26" fill="#fff"/><text x="0" y="9.2" font-size="25.5" text-anchor="middle" textLength="46" lengthAdjust="spacingAndGlyphs">-6.0</text></g>
<g transform="translate(362 122) rotate(58)"><rect x="-31" y="-13.5" width="62" height="27" fill="#fff"/><text x="0" y="9.2" font-size="25.5" text-anchor="middle" textLength="58" lengthAdjust="spacingAndGlyphs">-16.0</text></g>
<g transform="translate(660 160) rotate(-8)"><rect x="-25" y="-13" width="50" height="26" fill="#fff"/><text x="0" y="9.2" font-size="25.5" text-anchor="middle" textLength="46" lengthAdjust="spacingAndGlyphs">-8.0</text></g>
<g transform="translate(581 214) rotate(-4)"><rect x="-25" y="-13" width="50" height="26" fill="#fff"/><text x="0" y="9.2" font-size="25.5" text-anchor="middle" textLength="46" lengthAdjust="spacingAndGlyphs">-4.0</text></g>
<g transform="translate(777 117) rotate(-68)"><rect x="-25" y="-13" width="50" height="26" fill="#fff"/><text x="0" y="9.2" font-size="25.5" text-anchor="middle" textLength="44" lengthAdjust="spacingAndGlyphs">-22.</text></g>
<g transform="translate(822 175) rotate(-77)"><rect x="-25" y="-13" width="50" height="26" fill="#fff"/><text x="0" y="9.2" font-size="25.5" text-anchor="middle" textLength="46" lengthAdjust="spacingAndGlyphs">-2.0</text></g>
<g transform="translate(1277 116) rotate(-28)"><rect x="-21" y="-13" width="42" height="26" fill="#fff"/><text x="0" y="9.2" font-size="25.5" text-anchor="middle" textLength="37" lengthAdjust="spacingAndGlyphs">4.0</text></g>
<g transform="translate(1376 117) rotate(-50)"><rect x="-25" y="-13" width="50" height="26" fill="#fff"/><text x="0" y="9.2" font-size="25.5" text-anchor="middle" textLength="46" lengthAdjust="spacingAndGlyphs">-2.0</text></g>
<g transform="translate(1376 290) rotate(-85)"><rect x="-20" y="-13" width="40" height="26" fill="#fff"/><text x="0" y="9.2" font-size="25.5" text-anchor="middle" textLength="37" lengthAdjust="spacingAndGlyphs">0.0</text></g>
<g transform="translate(748 652) rotate(85)"><rect x="-25" y="-13" width="50" height="26" fill="#fff"/><text x="0" y="9.2" font-size="25.5" text-anchor="middle" textLength="46" lengthAdjust="spacingAndGlyphs">-4.0</text></g>
<g transform="translate(1893 688) rotate(3)"><rect x="-20.5" y="-13" width="41" height="26" fill="#fff"/><text x="0" y="9.2" font-size="25.5" text-anchor="middle" textLength="37" lengthAdjust="spacingAndGlyphs">0.0</text></g>
<g transform="translate(958 779) rotate(25)"><rect x="-20.5" y="-13" width="41" height="26" fill="#fff"/><text x="0" y="9.2" font-size="25.5" text-anchor="middle" textLength="37" lengthAdjust="spacingAndGlyphs">0.0</text></g>
<g transform="translate(1153 883) rotate(-62)"><rect x="-20.5" y="-13" width="41" height="26" fill="#fff"/><text x="0" y="9.2" font-size="25.5" text-anchor="middle" textLength="37" lengthAdjust="spacingAndGlyphs">0.0</text></g>
<rect x="453" y="92" width="121" height="19" fill="#fff"/>
<text x="513.5" y="106.5" font-size="25.5" text-anchor="middle" textLength="116" lengthAdjust="spacingAndGlyphs">-12.(-0.0)</text>
<rect x="939" y="92" width="39" height="16" fill="#fff"/>
<text x="958.5" y="103.5" font-size="25.5" text-anchor="middle" textLength="34" lengthAdjust="spacingAndGlyphs">8.0</text>
<rect x="989" y="92" width="76" height="18" fill="#fff"/>
<text x="1027" y="105.5" font-size="25.5" text-anchor="middle" textLength="72" lengthAdjust="spacingAndGlyphs">16.0.0</text>
<rect x="1177" y="92" width="39" height="15" fill="#fff"/>
<text x="1196.5" y="102.5" font-size="25.5" text-anchor="middle" textLength="34" lengthAdjust="spacingAndGlyphs">2.0</text>
<rect x="1531" y="92" width="49" height="21" fill="#fff"/>
<text x="1555.5" y="108.5" font-size="25.5" text-anchor="middle" textLength="44" lengthAdjust="spacingAndGlyphs">-4.0</text>
<rect x="1815" y="92" width="38" height="13" fill="#fff"/>
<text x="1834" y="100.5" font-size="25.5" text-anchor="middle" textLength="33" lengthAdjust="spacingAndGlyphs">0.0</text>
<rect x="213.8" y="994" width="9.2" height="24" fill="#fff"/>
<text x="206.5" y="1014.5" font-size="25.5">0</text>
</g>
<text x="182.2" y="109.7" font-size="44.5" text-anchor="end" textLength="24.5" lengthAdjust="spacingAndGlyphs">0</text>
<text x="182.2" y="267.1" font-size="44.5" text-anchor="end" textLength="103.8" lengthAdjust="spacingAndGlyphs">1000</text>
<text x="182.2" y="424.5" font-size="44.5" text-anchor="end" textLength="103.8" lengthAdjust="spacingAndGlyphs">2000</text>
<text x="182.2" y="581.9" font-size="44.5" text-anchor="end" textLength="103.8" lengthAdjust="spacingAndGlyphs">3000</text>
<text x="182.2" y="739.3" font-size="44.5" text-anchor="end" textLength="103.8" lengthAdjust="spacingAndGlyphs">4000</text>
<text x="182.2" y="896.7" font-size="44.5" text-anchor="end" textLength="103.8" lengthAdjust="spacingAndGlyphs">5000</text>
<text x="182.2" y="1054.1" font-size="44.5" text-anchor="end" textLength="103.8" lengthAdjust="spacingAndGlyphs">6000</text>
<text x="213.8" y="1099" font-size="44.5" text-anchor="middle" textLength="84.5" lengthAdjust="spacingAndGlyphs">−30</text>
<text x="810.2" y="1099" font-size="44.5" text-anchor="middle" textLength="24.5" lengthAdjust="spacingAndGlyphs">0</text>
<text x="1406.6" y="1099" font-size="44.5" text-anchor="middle" textLength="50.5" lengthAdjust="spacingAndGlyphs">30</text>
<text x="2003" y="1099" font-size="44.5" text-anchor="middle" textLength="50.5" lengthAdjust="spacingAndGlyphs">60</text>
<text x="1158" y="1157" font-size="43.5" text-anchor="middle" textLength="160.5" lengthAdjust="spacingAndGlyphs">latitude</text>
<text transform="translate(51 567.6) rotate(-90)" font-size="43.5" text-anchor="middle" textLength="208.5" lengthAdjust="spacingAndGlyphs">depth [m]</text>
<text x="620.9" y="69" font-size="52.2" textLength="271.8" lengthAdjust="spacingAndGlyphs">indopacific</text><text x="908.7" y="69" font-size="52.2" textLength="267.5" lengthAdjust="spacingAndGlyphs">meridional</text><text x="1192.2" y="69" font-size="52.2" textLength="293.6" lengthAdjust="spacingAndGlyphs">overturning</text><text x="1501.8" y="69" font-size="52.2" textLength="80.6" lengthAdjust="spacingAndGlyphs">[kg</text><text x="1598.3" y="69" font-size="52.2" textLength="95.8" lengthAdjust="spacingAndGlyphs">s-1]</text>
<text x="155.5" y="47.5" font-size="40" textLength="55" lengthAdjust="spacingAndGlyphs">(a)</text>
<text x="492.1" y="1240.7" font-size="44.5" textLength="94.3" lengthAdjust="spacingAndGlyphs">min:</text><text x="599.9" y="1240.7" font-size="44.5" textLength="151" lengthAdjust="spacingAndGlyphs">-36.25;</text>
<text x="851.6" y="1240.7" font-size="44.4" textLength="134.3" lengthAdjust="spacingAndGlyphs">mean:</text><text x="999.3" y="1240.7" font-size="44.4" textLength="150.7" lengthAdjust="spacingAndGlyphs">-0.252;</text>
<text x="1251.7" y="1240.7" font-size="44.4" textLength="79.6" lengthAdjust="spacingAndGlyphs">std:</text><text x="1344.8" y="1240.7" font-size="44.4" textLength="135.2" lengthAdjust="spacingAndGlyphs">8.882;</text>
<text x="1582.7" y="1240.7" font-size="44.2" textLength="106" lengthAdjust="spacingAndGlyphs">max:</text><text x="1702.1" y="1240.7" font-size="44.2" textLength="120.6" lengthAdjust="spacingAndGlyphs">31.52</text>
<path d="M2137.6 136.9 L2166.9 92.4 L2196.2 136.9 Z" fill="#67001f"/>
<path d="M2137.6 995.3 L2166.9 1038.8 L2196.2 995.3 Z" fill="#053061"/>
<rect x="2137.6" y="961.8" width="58.6" height="33.9" fill="#10457e"/>
<rect x="2137.6" y="926" width="58.6" height="36.4" fill="#1b5a9c"/>
<rect x="2137.6" y="890.2" width="58.6" height="36.4" fill="#276eb0"/>
<rect x="2137.6" y="854.5" width="58.6" height="36.4" fill="#3480b9"/>
<rect x="2137.6" y="818.7" width="58.6" height="36.4" fill="#4393c3"/>
<rect x="2137.6" y="782.9" width="58.6" height="36.4" fill="#62a7ce"/>
<rect x="2137.6" y="747.2" width="58.6" height="36.4" fill="#81bad8"/>
<rect x="2137.6" y="711.4" width="58.6" height="36.4" fill="#9dcbe1"/>
<rect x="2137.6" y="675.6" width="58.6" height="36.4" fill="#b8d8e9"/>
<rect x="2137.6" y="639.8" width="58.6" height="36.4" fill="#d1e5f0"/>
<rect x="2137.6" y="604.1" width="58.6" height="36.4" fill="#e0ecf3"/>
<rect x="2137.6" y="568.3" width="58.6" height="36.4" fill="#eff3f5"/>
<rect x="2137.6" y="532.5" width="58.6" height="36.4" fill="#f8f1ed"/>
<rect x="2137.6" y="496.8" width="58.6" height="36.4" fill="#fbe6da"/>
<rect x="2137.6" y="461" width="58.6" height="36.4" fill="#fddbc7"/>
<rect x="2137.6" y="425.2" width="58.6" height="36.4" fill="#f9c6ac"/>
<rect x="2137.6" y="389.4" width="58.6" height="36.4" fill="#f6af8e"/>
<rect x="2137.6" y="353.7" width="58.6" height="36.4" fill="#ee9677"/>
<rect x="2137.6" y="317.9" width="58.6" height="36.4" fill="#e27b62"/>
<rect x="2137.6" y="282.1" width="58.6" height="36.4" fill="#d6604d"/>
<rect x="2137.6" y="246.4" width="58.6" height="36.4" fill="#c6413e"/>
<rect x="2137.6" y="210.6" width="58.6" height="36.4" fill="#b82531"/>
<rect x="2137.6" y="174.8" width="58.6" height="36.4" fill="#a21328"/>
<rect x="2137.6" y="136.6" width="58.6" height="38.9" fill="#840924"/>
<path d="M2137.6 136.9 L2166.9 92.4 L2196.2 136.9 L2196.2 995.3 L2166.9 1038.8 L2137.6 995.3 Z" fill="none" stroke="#000" stroke-width="3.33"/>
<path d="M2196.2 995.3 H2210.8 M2196.2 923.8 H2210.8 M2196.2 852.3 H2210.8 M2196.2 780.7 H2210.8 M2196.2 709.2 H2210.8 M2196.2 637.6 H2210.8 M2196.2 566.1 H2210.8 M2196.2 494.6 H2210.8 M2196.2 423 H2210.8 M2196.2 351.5 H2210.8 M2196.2 279.9 H2210.8 M2196.2 208.4 H2210.8 M2196.2 136.9 H2210.8" stroke="#000" stroke-width="3.33"/>
<path d="M2196.2 959.6 H2204.5 M2196.2 888 H2204.5 M2196.2 816.5 H2204.5 M2196.2 745 H2204.5 M2196.2 673.4 H2204.5 M2196.2 601.9 H2204.5 M2196.2 530.3 H2204.5 M2196.2 458.8 H2204.5 M2196.2 387.2 H2204.5 M2196.2 315.7 H2204.5 M2196.2 244.2 H2204.5 M2196.2 172.6 H2204.5" stroke="#000" stroke-width="2.5"/>
<text x="2228" y="1012.1" font-size="44.5" textLength="83.2" lengthAdjust="spacingAndGlyphs">−24</text>
<text x="2228" y="940.6" font-size="44.5" textLength="83.2" lengthAdjust="spacingAndGlyphs">−20</text>
<text x="2228" y="869.1" font-size="44.5" textLength="83.2" lengthAdjust="spacingAndGlyphs">−16</text>
<text x="2228" y="797.5" font-size="44.5" textLength="83.2" lengthAdjust="spacingAndGlyphs">−12</text>
<text x="2228" y="726" font-size="44.5" textLength="57.7" lengthAdjust="spacingAndGlyphs">−8</text>
<text x="2228" y="654.4" font-size="44.5" textLength="57.7" lengthAdjust="spacingAndGlyphs">−4</text>
<text x="2226" y="582.9" font-size="44.5" textLength="26.5" lengthAdjust="spacingAndGlyphs">0</text>
<text x="2226" y="511.4" font-size="44.5" textLength="26.5" lengthAdjust="spacingAndGlyphs">4</text>
<text x="2226" y="439.8" font-size="44.5" textLength="26.5" lengthAdjust="spacingAndGlyphs">8</text>
<text x="2226" y="368.3" font-size="44.5" textLength="52" lengthAdjust="spacingAndGlyphs">12</text>
<text x="2226" y="296.7" font-size="44.5" textLength="52" lengthAdjust="spacingAndGlyphs">16</text>
<text x="2226" y="225.2" font-size="44.5" textLength="52" lengthAdjust="spacingAndGlyphs">20</text>
<text x="2226" y="153.7" font-size="44.5" textLength="52" lengthAdjust="spacingAndGlyphs">24</text>
</g>
</svg>
</body></html>
